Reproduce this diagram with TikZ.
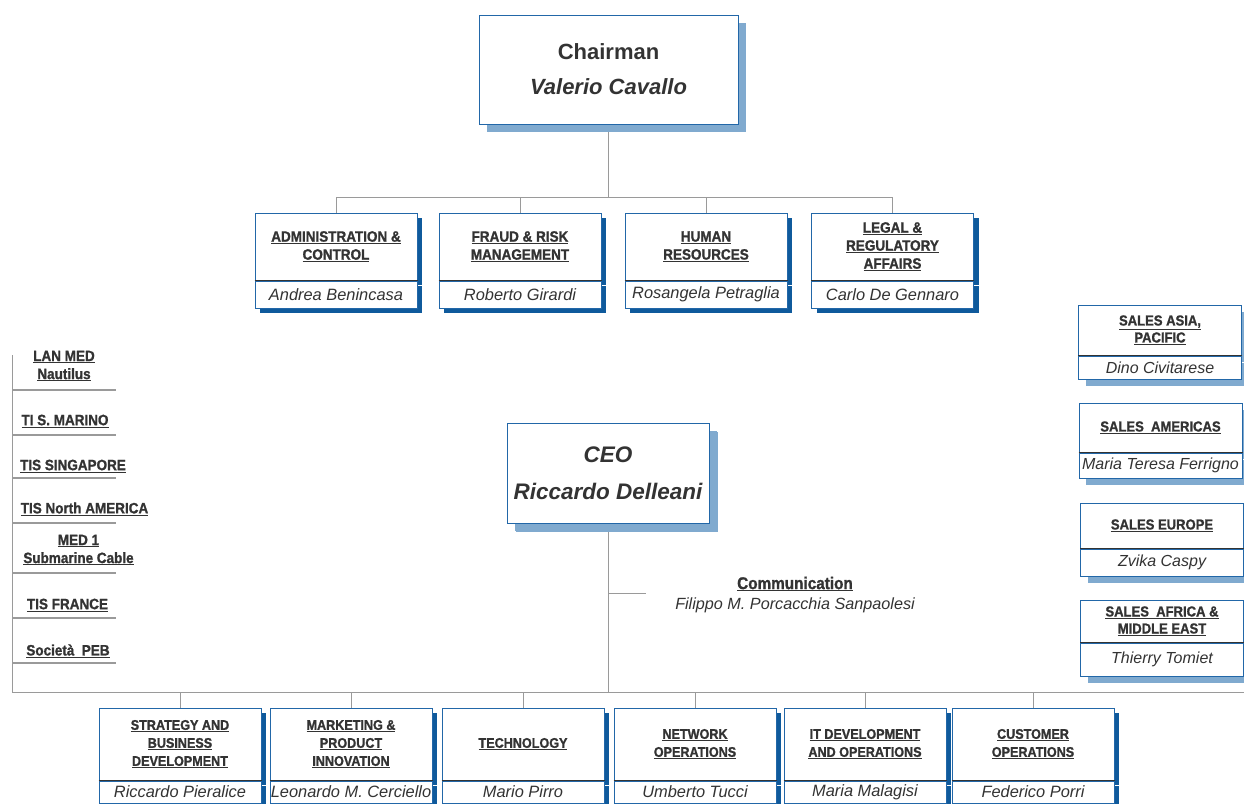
\documentclass[tikz,border=0pt]{standalone}
\usepackage{fontspec}
\setmainfont{Liberation Sans}
\newfontfamily\headfont[FakeStretch=0.9, BoldFeatures={FakeBold=1.2}]{Liberation Sans}
\usetikzlibrary{
  positioning,
  shadows,
  backgrounds,
}
\definecolor{boxblue}{HTML}{2267A8}
\definecolor{shadedark}{HTML}{0F5A9C}
\definecolor{shadelight}{HTML}{80AACF}
\definecolor{linegray}{HTML}{9A9A9A}
\definecolor{txtgray}{HTML}{333333}
\newcommand{\hd}[1]{\underline{#1}}
\tikzset{
  darkshadow/.style={
    drop shadow={shadow xshift=5pt, shadow yshift=-5pt,
      fill=shadedark, opacity=1}
  },
  lightshadow/.style={
    drop shadow={shadow xshift=#1, shadow yshift=-#1,
      fill=shadelight, opacity=1}
  },
  chief/.style={
    rectangle,
    draw=boxblue,
    fill=white,
    line width=1pt,
    inner sep=0pt,
    align=center,
    text=txtgray,
    lightshadow=8pt,
  },
  staff/.style={
    rectangle,
    draw=boxblue,
    fill=white,
    line width=1pt,
    inner sep=0pt,
    minimum width=162pt,
    minimum height=67pt,
    align=center,
    text=txtgray,
    font=\headfont\bfseries\fontsize{15}{18}\selectfont,
    darkshadow,
  },
  staffname/.style={
    rectangle,
    draw=boxblue,
    fill=white,
    line width=1pt,
    inner sep=0pt,
    minimum width=162pt,
    minimum height=27pt,
    text=txtgray,
    font=\itshape\fontsize{16.4}{18}\selectfont,
    darkshadow,
  },
  unit/.style={
    staff,
    minimum height=72pt,
    font=\headfont\bfseries\fontsize{14}{18}\selectfont,
  },
  unitname/.style={
    staffname,
    minimum height=22pt,
  },
  sales/.style={
    rectangle,
    draw=boxblue,
    fill=white,
    line width=1pt,
    inner sep=0pt,
    minimum width=163pt,
    align=center,
    text=txtgray,
    font=\headfont\bfseries\fontsize{14.5}{17}\selectfont,
    lightshadow=7pt,
  },
  salesname/.style={
    sales,
    font=\itshape\fontsize{16}{18}\selectfont,
  },
  company/.style={
    inner sep=0pt,
    align=center,
    text=txtgray,
    font=\headfont\bfseries\fontsize{15}{18}\selectfont,
  },
  conn/.style={
    draw=linegray,
    line width=1pt,
  },
  sep/.style={
    draw=linegray,
    line width=1.3pt,
  },
  divider/.style={
    draw=txtgray,
    line width=1pt,
  },
}
\begin{document}
\begin{tikzpicture}[x=1pt, y=-1pt]
  \useasboundingbox (0,0) rectangle (1244,803);
  \clip (0,0) rectangle (1244,803);

  % Chairman and CEO
  \node (chair) [chief, minimum width=259pt, minimum height=109pt,
    font=\bfseries\fontsize{22}{35}\selectfont] at (608.5,69.5)
    {Chairman\\\textit{Valerio Cavallo}};
  \node (ceo) [chief, lightshadow=9pt, minimum width=202pt, minimum height=100pt,
    font=\bfseries\itshape\fontsize{22.5}{37}\selectfont] at (608,473)
    {CEO\\Riccardo Delleani};

  % Staff functions
  \node (admin) [staff] at (336,246.5) {\hd{ADMINISTRATION \&}\\\hd{CONTROL}};
  \node (adminname) [staffname, below=0pt of admin] {Andrea Benincasa};
  \node (fraud) [staff] at (520,246.5) {\hd{FRAUD \& RISK}\\\hd{MANAGEMENT}};
  \node (fraudname) [staffname, below=0pt of fraud] {Roberto Girardi};
  \node (hr) [staff] at (706,246.5) {\hd{HUMAN}\\\hd{RESOURCES}};
  \node (hrname) [staffname, below=0pt of hr] {Rosangela Petraglia};
  \node (legal) [staff] at (892.5,246.5) {\hd{LEGAL \&}\\\hd{REGULATORY}\\\hd{AFFAIRS}};
  \node (legalname) [staffname, below=0pt of legal] {Carlo De Gennaro};

  % Sales
  \node (asia) [sales, minimum height=50pt] at (1160,330) {\hd{SALES ASIA,}\\\hd{PACIFIC}};
  \node (asianame) [salesname, minimum height=23pt, below=0pt of asia] {Dino Civitarese};
  \node (americas) [sales, minimum height=49pt] at (1160.5,427.5) {\hd{SALES\ \ AMERICAS}};
  \node (americasname) [salesname, minimum height=25pt, below=0pt of americas] {Maria Teresa Ferrigno};
  \node (europe) [sales, minimum height=45pt] at (1162,525.5) {\hd{SALES EUROPE}};
  \node (europename) [salesname, minimum height=27pt, below=0pt of europe] {Zvika Caspy};
  \node (africa) [sales, minimum height=42pt] at (1162,621) {\hd{SALES\ \ AFRICA \&}\\\hd{MIDDLE EAST}};
  \node (africaname) [salesname, minimum height=33pt, below=0pt of africa] {Thierry Tomiet};

  % Line units
  \node (strat) [unit] at (180,744) {\hd{STRATEGY AND}\\\hd{BUSINESS}\\\hd{DEVELOPMENT}};
  \node (stratname) [unitname, below=0pt of strat] {Riccardo Pieralice};
  \node (mktg) [unit] at (351,744) {\hd{MARKETING \&}\\\hd{PRODUCT}\\\hd{INNOVATION}};
  \node (mktgname) [unitname, below=0pt of mktg] {Leonardo M. Cerciello};
  \node (tech) [unit] at (523,744) {\hd{TECHNOLOGY}};
  \node (techname) [unitname, below=0pt of tech] {Mario Pirro};
  \node (netops) [unit] at (695,744) {\hd{NETWORK}\\\hd{OPERATIONS}};
  \node (netopsname) [unitname, below=0pt of netops] {Umberto Tucci};
  \node (itdev) [unit] at (865,744) {\hd{IT DEVELOPMENT}\\\hd{AND OPERATIONS}};
  \node (itdevname) [unitname, below=0pt of itdev] {Maria Malagisi};
  \node (custops) [unit] at (1033,744) {\hd{CUSTOMER}\\\hd{OPERATIONS}};
  \node (custopsname) [unitname, below=0pt of custops] {Federico Porri};

  % Dividers between title and name
  \foreach \b in {admin,fraud,hr,legal,asia,americas,europe,africa,
                  strat,mktg,tech,netops,itdev,custops}
    \draw [divider] (\b.south west) -- (\b.south east);

  % Companies
  \node (lanmed) [company] at (64,366) {\hd{LAN MED}\\\hd{Nautilus}};
  \node (sanmarino) [company] at (65,421) {\hd{TI S. MARINO}};
  \node (singapore) [company] at (73,466) {\hd{TIS SINGAPORE}};
  \node (northam) [company] at (84.5,509) {\hd{TIS North AMERICA}};
  \node (med1) [company] at (78.5,550) {\hd{MED 1}\\\hd{Submarine Cable}};
  \node (france) [company] at (67.5,605) {\hd{TIS FRANCE}};
  \node (peb) [company] at (68,651) {\hd{Società\ \ PEB}};
  \foreach \y in {390,435,478,523,573,618,663}
    \draw [sep] (12,\y) -- (116,\y);

  % Communication
  \node (comm) [company, font=\headfont\bfseries\fontsize{17}{18}\selectfont]
    at (795,584) {\hd{Communication}};
  \node (commname) [below=6pt of comm, inner sep=0pt, text=txtgray,
    font=\itshape\fontsize{16.2}{18}\selectfont] {Filippo M. Porcacchia Sanpaolesi};

  % Connectors
  \coordinate (bus1) at (608.5,197);
  \coordinate (bus2) at (608,692);
  \coordinate (busL) at (12,692);
  \coordinate (busR) at (1244,692);
  \coordinate (listtop) at (12,355);
  \coordinate (commtap) at (608,593);
  \begin{scope}[on background layer]
    \draw [conn] (chair.south) -- (bus1);
    \foreach \b in {admin,fraud,hr,legal}
      \draw [conn] (\b.north) |- (bus1);
    \draw [conn] (ceo.south) -- (bus2);
    \draw [conn] (commtap) -- ++(38,0);
    \draw [conn] (busL) -- (busR);
    \draw [conn] (listtop) -- (busL);
    \foreach \b in {strat,mktg,tech,netops,itdev,custops}
      \draw [conn] (\b.north) -- (\b.north |- bus2);
  \end{scope}

\end{tikzpicture}
\end{document}
